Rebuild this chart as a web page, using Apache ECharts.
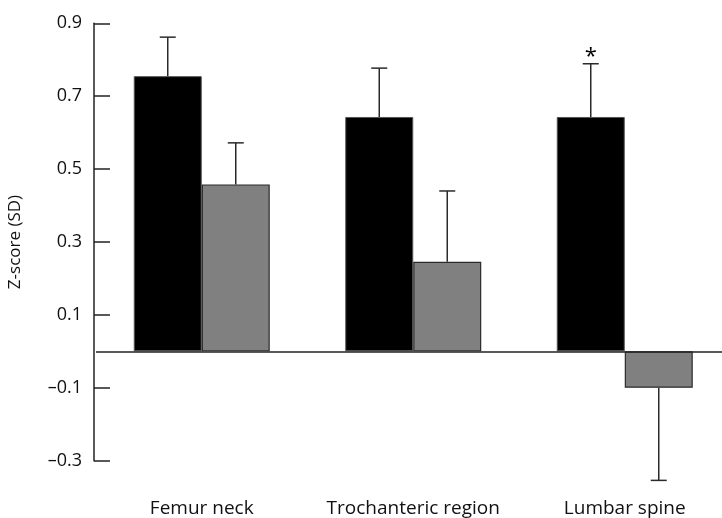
<!DOCTYPE html>
<html>
<head>
<meta charset="utf-8">
<script src="https://cdn.jsdelivr.net/npm/echarts@6/dist/echarts.min.js"></script>
<style>html,body{margin:0;padding:0;background:#fff;}#c{width:722px;height:518px;}</style>
</head>
<body>
<div id="c"></div>
<script>
const categories = ['Femur neck', 'Trochanteric region', 'Lumbar spine'];
const groupA = [0.755, 0.643, 0.643];        // black bars
const groupAErrEnd = [0.862, 0.777, 0.789];  // black error bar ends
const groupB = [0.458, 0.246, -0.1];         // grey bars
const groupBErrEnd = [0.572, 0.44, -0.354];  // grey error bar ends
const significance = ['', '', '*'];          // marks above black bars
const yTicks = [-0.3, -0.1, 0.1, 0.3, 0.5, 0.7, 0.9];

const BAR_W = 68;
const FONT = '"Open Sans", "Noto Sans", sans-serif';

function errSeries(vals, ends, side, marks) {
  return {
    type: 'custom',
    z: 5,
    clip: false,
    data: vals.map((v, i) => [i, v, ends[i], marks ? marks[i] : '']),
    renderItem: function (params, api) {
      const i = api.value(0);
      const p0 = api.coord([i, api.value(1)]);
      const p1 = api.coord([i, api.value(2)]);
      const x = p0[0] + side * BAR_W / 2;
      const children = [
        { type: 'line', shape: { x1: x, y1: p0[1], x2: x, y2: p1[1] }, style: { stroke: '#2a2a2a', lineWidth: 1.5 } },
        { type: 'line', shape: { x1: x - 8, y1: p1[1], x2: x + 8, y2: p1[1] }, style: { stroke: '#2a2a2a', lineWidth: 1.5 } }
      ];
      const mk = api.value(3);
      if (mk) {
        children.push({ type: 'text', style: { text: mk, x: x, y: p1[1] + 4, align: 'center', verticalAlign: 'bottom', font: '22px ' + FONT, fill: '#000' } });
      }
      return { type: 'group', children: children };
    }
  };
}

const chart = echarts.init(document.getElementById('c'), null, { renderer: 'canvas' });
chart.setOption({
  animation: false,
  backgroundColor: '#ffffff',
  grid: { left: 96, width: 634.5, top: 23.3, bottom: 57.3, containLabel: false, outerBoundsMode: 'none' },
  xAxis: {
    type: 'category',
    data: categories,
    axisLine: { show: false, onZero: false },
    axisTick: { show: false },
    axisLabel: { interval: 0, hideOverlap: false, margin: 38, fontSize: 19, color: '#111', fontFamily: FONT }
  },
  yAxis: {
    type: 'value',
    min: -0.3,
    max: 0.9,
    offset: 2,
    name: 'Z-score (SD)',
    nameLocation: 'middle',
    nameGap: 70,
    nameTextStyle: { fontSize: 17, color: '#111', fontFamily: FONT },
    splitLine: { show: false },
    axisLine: { show: true, lineStyle: { color: '#222', width: 1.5 } },
    axisTick: { show: true, inside: true, length: 16, customValues: yTicks, lineStyle: { color: '#222', width: 1.5 } },
    axisLabel: {
      customValues: yTicks,
      margin: 12,
      fontSize: 18,
      color: '#111',
      fontFamily: FONT,
      formatter: v => (Math.round(v * 10) / 10).toFixed(1).replace('-', '\u2013')
    }
  },
  series: [
    {
      type: 'bar', data: groupA, barWidth: BAR_W, barGap: '0%',
      itemStyle: { color: '#000', borderColor: '#555', borderWidth: 1 },
      markLine: {
        silent: true, symbol: 'none', label: { show: false },
        lineStyle: { color: '#222', width: 1.5, type: 'solid' },
        data: [{ yAxis: 0 }]
      }
    },
    {
      type: 'bar', data: groupB, barWidth: BAR_W, barGap: '0%',
      itemStyle: { color: '#808080', borderColor: '#2a2a2a', borderWidth: 1.2 }
    },
    errSeries(groupA, groupAErrEnd, -1, significance),
    errSeries(groupB, groupBErrEnd, 1, null)
  ]
});
</script>
</body>
</html>
